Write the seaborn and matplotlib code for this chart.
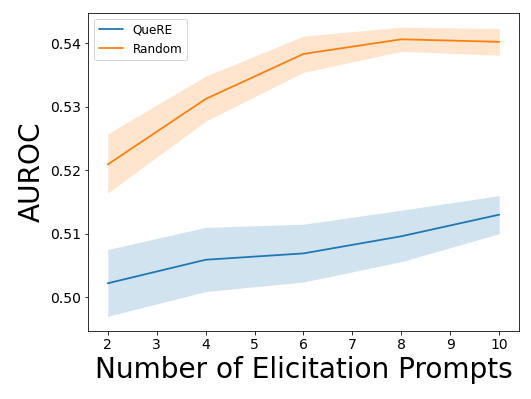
import numpy as np
import pandas as pd
import matplotlib
matplotlib.use("Agg")
import matplotlib.pyplot as plt
import seaborn as sns

# number of elicitation prompts
prompts = [2, 4, 6, 8, 10]

# QueRE: mean AUROC and band limits
quere_mean = [0.5022, 0.5059, 0.5069, 0.5096, 0.5130]
quere_low = [0.4970, 0.5009, 0.5024, 0.5056, 0.5100]
quere_high = [0.5075, 0.5110, 0.5115, 0.5137, 0.5160]

# Random: mean AUROC and band limits
random_mean = [0.5209, 0.5312, 0.5383, 0.5406, 0.5402]
random_low = [0.5164, 0.5277, 0.5354, 0.5387, 0.5381]
random_high = [0.5257, 0.5348, 0.5411, 0.5425, 0.5423]

df = pd.DataFrame({
    "prompts": prompts * 2,
    "auroc": quere_mean + random_mean,
    "method": ["QueRE"] * len(prompts) + ["Random"] * len(prompts),
})

sns.set_style("ticks", {"text.color": "black", "xtick.color": "black",
                        "ytick.color": "black", "axes.labelcolor": "black",
                        "axes.edgecolor": "black"})
plt.rcParams["font.family"] = ["DejaVu Sans"]

fig, ax = plt.subplots(figsize=(531 / 72, 399 / 72), dpi=72)
cols = ["tab:blue", "tab:orange"]
sns.lineplot(data=df, x="prompts", y="auroc", hue="method",
             palette=cols, linewidth=1.8, ax=ax)
ax.fill_between(prompts, quere_low, quere_high, color=cols[0], alpha=0.2, linewidth=0)
ax.fill_between(prompts, random_low, random_high, color=cols[1], alpha=0.2, linewidth=0)

ax.set_xticks(range(2, 11))
ax.set_yticks([0.50, 0.51, 0.52, 0.53, 0.54])
ax.tick_params(labelsize=14)
ax.set_xlabel("Number of Elicitation Prompts", fontsize=28)
ax.set_ylabel("AUROC", fontsize=28)
ax.legend(loc="upper left", fontsize=12, title=None)

fig.subplots_adjust(left=0.166, right=0.977, bottom=0.171, top=0.968)
fig.savefig("out.png", dpi=72)
